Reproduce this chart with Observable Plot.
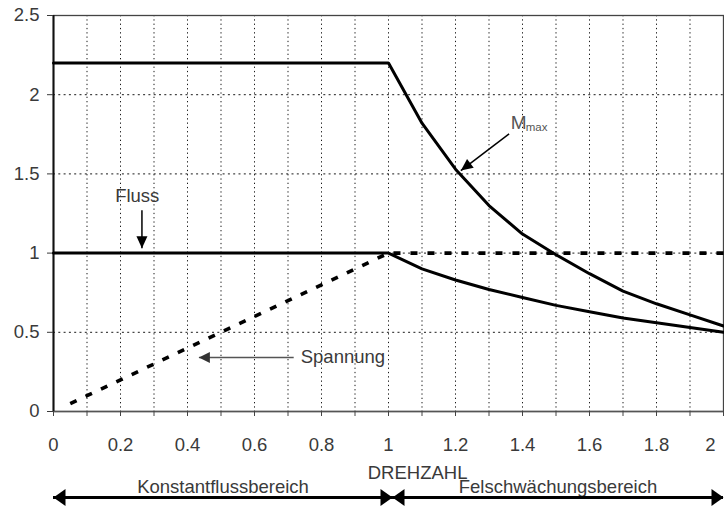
<!DOCTYPE html>
<html><head><meta charset="utf-8">
<script src="https://cdn.jsdelivr.net/npm/d3@7"></script>
<script src="https://cdn.jsdelivr.net/npm/@observablehq/plot@0.6"></script>
<style>body{margin:0;background:#fff}svg{display:block}</style>
</head><body><div id="chart"></div>
<script>
// ---- data ----
const drehzahl = [0,0.1,0.2,0.3,0.4,0.5,0.6,0.7,0.8,0.9,1.0,1.1,1.2,1.3,1.4,1.5,1.6,1.7,1.8,1.9,2.0];
const mmax     = [2.2,2.2,2.2,2.2,2.2,2.2,2.2,2.2,2.2,2.2,2.2,1.82,1.53,1.30,1.12,0.99,0.87,0.76,0.68,0.61,0.54];
const fluss    = [1,1,1,1,1,1,1,1,1,1,1,0.90,0.83,0.77,0.72,0.67,0.63,0.59,0.56,0.53,0.50];
const spannungX = [0.05,0.1,0.2,0.3,0.4,0.5,0.6,0.7,0.8,0.9,1.0,2.0];
const spannungY = [0.05,0.1,0.2,0.3,0.4,0.5,0.6,0.7,0.8,0.9,1.0,1.0];
const xTicks = [0,0.1,0.2,0.3,0.4,0.5,0.6,0.7,0.8,0.9,1.0,1.1,1.2,1.3,1.4,1.5,1.6,1.7,1.8,1.9,2.0];
const xGrid  = [0.1,0.2,0.3,0.4,0.5,0.6,0.7,0.8,0.9,1.0,1.1,1.2,1.3,1.4,1.5,1.6,1.7,1.8,1.9];
const xLabelValues = [0,0.2,0.4,0.6,0.8,1.0,1.2,1.4,1.6,1.8];
const xLabelTexts  = ["0","0.2","0.4","0.6","0.8","1","1.2","1.4","1.6","1.8"];
const xLastLabel = {x: 2.0, text: "2"};
const yTicks = [0,0.5,1,1.5,2,2.5];
const yGrid  = [0.5,1,1.5,2];

// annotation arrows (data units)
const flussLabel = {x: 0.25, y: 1.36, text: "Fluss"};
const flussArrow = {x1: 0.264, y1: 1.27, x2: 0.264, y2: 1.03};
const mmaxLabel = {x: 1.365, y: 1.82, text: "M", sub: "max"};
const mmaxArrow = {x1: 1.36, y1: 1.753, x2: 1.216, y2: 1.521};
const spannungLabel = {x: 0.738, y: 0.341, text: "Spannung"};
const spannungArrow = {x1: 0.717, y1: 0.341, x2: 0.434, y2: 0.341};
// bottom annotations
const drehzahlLabel = {x: 0.938, text: "DREHZAHL"};
const regions = [
  {x1: 0, x2: 1.012, text: "Konstantflussbereich", heads: [0, 1.012], dirs: [180, 0]},
  {x1: 1.012, x2: 2.0, text: "Felschwächungsbereich", heads: [1.012, 2.0], dirs: [180, 0]}
];

// ---- build ----
const W = 724, H = 506, mL = 53, mR = 1, mT = 15, mB = 95;
const kx = (W - mL - mR) / 2, ky = (H - mT - mB) / 2.5;
const head = (len, half) => ({draw(ctx){ctx.moveTo(0,0);ctx.lineTo(-len,-half);ctx.lineTo(-len,half);ctx.closePath();}});
const angle = a => Math.atan2(-(a.y2 - a.y1) * ky, (a.x2 - a.x1) * kx) * 180 / Math.PI;

const curves = drehzahl.map((x, i) => ({x, mmax: mmax[i], fluss: fluss[i]}));
const span = spannungX.map((x, i) => ({x, y: spannungY[i]}));
const xLabels = xLabelValues.map((x, i) => ({x, text: xLabelTexts[i]}));
const FONT = "'Liberation Sans', Arial, Helvetica, sans-serif";
const TXT = "#3a3a3a";
const FS = 18.5;

const regionHeads = regions.flatMap(r => r.heads.map((x, i) => ({x, rot: r.dirs[i]})));
const regionMid = regions.map(r => ({x: (r.x1 + r.x2) / 2, text: r.text}));

const chart = Plot.plot({
  width: W, height: H,
  marginLeft: mL, marginRight: mR, marginTop: mT, marginBottom: mB,
  style: {fontFamily: FONT, fontSize: FS + "px", background: "#fff", color: TXT},
  x: {domain: [0, 2], label: null},
  y: {domain: [0, 2.5], label: null},
  marks: [
    Plot.gridX(xGrid, {stroke: "#000", strokeOpacity: 0.9, strokeWidth: 1, strokeDasharray: "1.3,3"}),
    Plot.gridY(yGrid, {stroke: "#000", strokeOpacity: 0.9, strokeWidth: 1, strokeDasharray: "2,3.3"}),
    Plot.frame({stroke: "#444", strokeWidth: 1.3}),
    Plot.ruleY([0], {stroke: "#555", strokeWidth: 1.5}),
    Plot.ruleX([0], {stroke: "#111", strokeWidth: 2}),
    Plot.axisY({ticks: yTicks, tickSize: 6, tickPadding: 8, tickFormat: d => String(d), fontSize: FS, color: TXT}),
    Plot.axisX({ticks: xTicks, tickSize: 5, tickFormat: () => "", color: "#444"}),
    Plot.text(xLabels, {x: "x", y: () => 0, text: "text", dy: 34, fontSize: FS, fill: TXT}),
    Plot.text([xLastLabel], {x: "x", y: () => 0, text: "text", dy: 34, dx: -8, textAnchor: "end", fontSize: FS, fill: TXT}),
    // data lines
    Plot.line(span, {x: "x", y: "y", stroke: "#000", strokeWidth: 3.6, strokeDasharray: "7,10", strokeLinecap: "butt"}),
    Plot.line(curves, {x: "x", y: "fluss", stroke: "#000", strokeWidth: 3, strokeLinejoin: "miter"}),
    Plot.line(curves, {x: "x", y: "mmax", stroke: "#000", strokeWidth: 3, strokeLinejoin: "miter"}),
    // annotations inside plot
    Plot.text([flussLabel], {x: "x", y: "y", text: "text", fontSize: FS, fill: TXT}),
    Plot.link([flussArrow], {x1: "x1", y1: "y1", x2: "x2", y2: "y2", stroke: "#000", strokeWidth: 1.5}),
    Plot.dot([flussArrow], {x: "x2", y: "y2", symbol: head(12, 5.5), r: 5, fill: "#000", stroke: null, rotate: angle(flussArrow)}),
    Plot.text([mmaxLabel], {x: "x", y: "y", text: "text", textAnchor: "start", fontSize: 19, fill: "#555"}),
    Plot.text([mmaxLabel], {x: "x", y: "y", text: "sub", textAnchor: "start", dx: 15, dy: 4, fontSize: 11.5, fill: "#555"}),
    Plot.link([mmaxArrow], {x1: "x1", y1: "y1", x2: "x2", y2: "y2", stroke: "#000", strokeWidth: 1.5}),
    Plot.dot([mmaxArrow], {x: "x2", y: "y2", symbol: head(12, 5.5), r: 5, fill: "#000", stroke: null, rotate: angle(mmaxArrow)}),
    Plot.text([spannungLabel], {x: "x", y: "y", text: "text", textAnchor: "start", fontSize: FS, fill: TXT}),
    Plot.link([spannungArrow], {x1: "x1", y1: "y1", x2: "x2", y2: "y2", stroke: "#555", strokeWidth: 1.5}),
    Plot.dot([spannungArrow], {x: "x2", y: "y2", symbol: head(11, 5.5), r: 5, fill: "#333", stroke: null, rotate: angle(spannungArrow)}),
    // bottom annotations
    Plot.text([drehzahlLabel], {x: "x", y: () => 0, text: "text", textAnchor: "start", dy: 62, fontSize: FS, fill: TXT}),
    Plot.text(regionMid, {x: "x", y: () => 0, text: "text", dy: 76, fontSize: FS, fill: TXT}),
    Plot.ruleY(regions, {y: () => 0, x1: "x1", x2: "x2", dy: 86, stroke: "#000", strokeWidth: 3}),
    Plot.dot(regionHeads, {x: "x", y: () => 0, dy: 86, symbol: head(12, 8.5), r: 5, fill: "#000", stroke: null, rotate: "rot"})
  ]
});
document.getElementById("chart").appendChild(chart);
</script>
</body></html>
